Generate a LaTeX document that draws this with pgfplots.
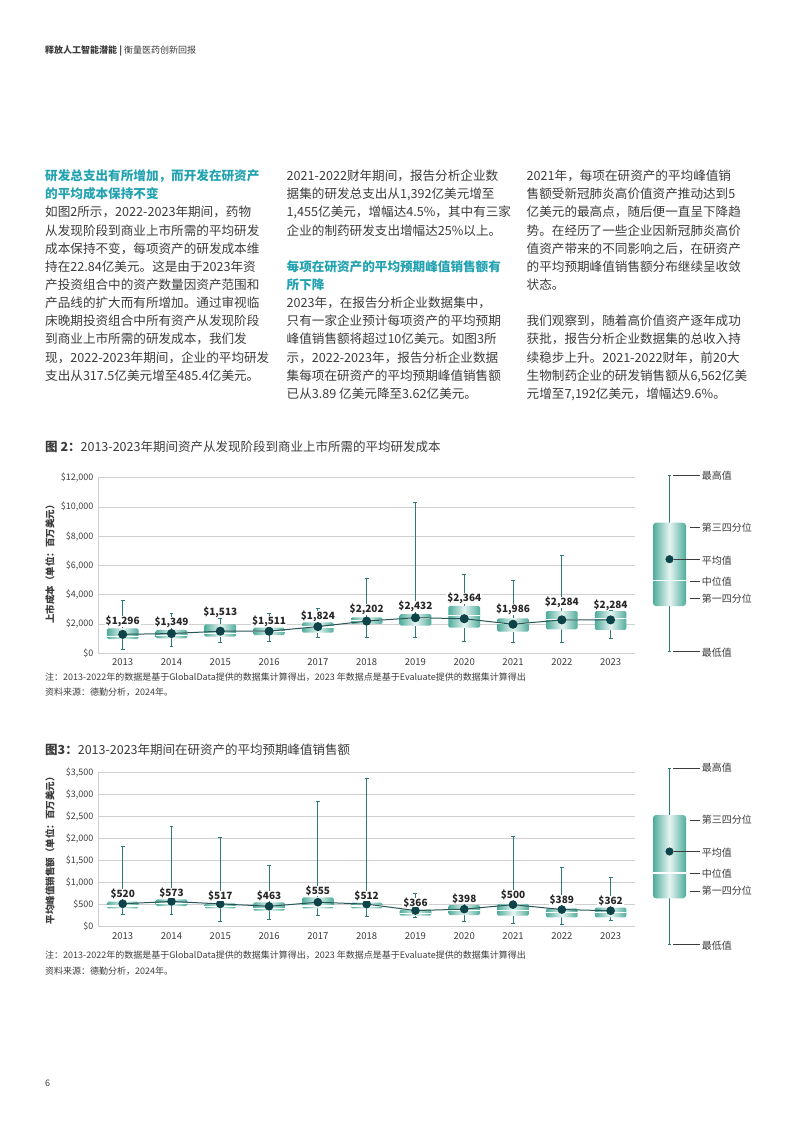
\documentclass[border=0pt]{standalone}
\usepackage{fontspec}
\setmainfont{Noto Sans CJK SC}
\usepackage{pgfplots}
\usepackage{pgfplotstable}
\pgfplotsset{compat=1.18}
\usepgfplotslibrary{statistics}

\definecolor{txt}{HTML}{3C3C3C}
\definecolor{head}{HTML}{23A3B1}
\definecolor{gridc}{HTML}{CFCFCF}
\definecolor{tealD}{HTML}{4FAC9C}
\definecolor{tealL}{HTML}{E6F4F1}
\definecolor{whisk}{HTML}{2C7B78}
\definecolor{meanC}{HTML}{0E434A}
\definecolor{lineC}{HTML}{2A5557}

% Figure 2: mean cost to launch (US$ million) and label heights
\pgfplotstableread{
pos mean ly
0   1296 1818
1   1349 1750
2   1513 2392
3   1511 1818
4   1824 2160
5   2202 2600
6   2432 2843
7   2364 3349
8   1986 2618
9   2284 3076
10  2284 2912
}\costdata

% Figure 3: mean forecast peak sales (US$ million) and label heights
\pgfplotstableread{
pos mean ly
0   520  621
1   573  644
2   517  589
3   463  589
4   555  703
5   512  589
6   366  431
7   398  508
8   500  605
9   389  492
10  362  476
}\salesdata

\pgfplotsset{
 boxchart/.style={
  anchor=south west, scale only axis, width=536.7pt,
  xmin=-0.5, xmax=10.5, ymin=0,
  axis x line*=bottom, axis y line*=left,
  axis line style={draw=gridc, line width=0.8pt, -},
  ymajorgrids, grid style={draw=gridc, line width=0.8pt},
  major tick length=0pt,
  scaled y ticks=false,
  xtick={0,...,10},
  xticklabels={2013,2014,2015,2016,2017,2018,2019,2020,2021,2022,2023},
  xticklabel style={font=\fontsize{9.5}{10}\selectfont, text=txt, yshift=-2pt},
  yticklabel style={font=\fontsize{9}{10}\selectfont, text=txt, xshift=-1.5pt},
  clip=false,
  boxplot/draw direction=y,
  boxplot/box extend=0.65,
  boxplot/whisker extend=0.08,
  boxplot/every box/.style={draw=none, left color=tealD, right color=tealD, middle color=tealL, rounded corners=1.5pt},
  boxplot/every median/.style={draw=white, line width=1.1pt},
  boxplot/every whisker/.style={draw=whisk, line width=0.9pt},
  /pgf/number format/assume math mode=true,
 },
 bx/.style={draw=whisk, line width=0.9pt},
 vlab/.style={draw=none, mark=none, point meta=\thisrow{mean},
  nodes near coords={\$\pgfmathprintnumber[fixed,precision=0,1000 sep={,}]{\pgfplotspointmeta}},
  every node near coord/.append style={font=\bfseries\fontsize{10}{10}\selectfont, text=black!85, fill=white, inner xsep=1pt, inner ysep=0pt}},
 legbox/.style={
  anchor=south west, scale only axis, width=33pt, height=176pt,
  xmin=-0.5, xmax=0.5, ymin=0, ymax=176, hide axis, clip=false,
  boxplot/draw direction=y,
  boxplot/box extend=1,
  boxplot/whisker extend=0.12,
  boxplot/every box/.style={draw=none, left color=tealD, right color=tealD, middle color=tealL, rounded corners=3pt},
  boxplot/every median/.style={draw=white, line width=1.1pt},
  boxplot/every whisker/.style={draw=whisk, line width=0.9pt},
 },
}

\tikzset{
 body/.style={font=\fontsize{12.6}{15}\selectfont, text=txt, anchor=base west, inner sep=0pt},
 headl/.style={font=\bfseries\fontsize{12.6}{15}\selectfont, text=head, anchor=base west, inner sep=0pt},
 small/.style={font=\fontsize{9}{10}\selectfont, text=txt, anchor=base west, inner sep=0pt},
 legl/.style={font=\fontsize{10}{10}\selectfont, text=txt, anchor=west, inner sep=0pt},
 leader/.style={draw=txt, line width=0.8pt},
}

\newcommand{\legendaxis}[1]{%
\begin{axis}[legbox, at={(653pt,#1)}]
\addplot[bx, boxplot prepared={draw position=0, lower whisker=0, lower quartile=45.7, median=71, upper quartile=129, upper whisker=176}] coordinates {};
\addplot[only marks, mark=*, mark size=3.8pt, mark options={draw=meanC, fill=meanC}] coordinates {(0,92.5)};
\draw[leader] (axis cs:0.106,176) -- (axis cs:0.924,176);
\draw[leader] (axis cs:0.62,124) -- (axis cs:0.924,124);
\draw[leader] (axis cs:0.15,92.5) -- (axis cs:0.924,92.5);
\draw[leader] (axis cs:0.62,70.5) -- (axis cs:0.924,70.5);
\draw[leader] (axis cs:0.62,53) -- (axis cs:0.924,53);
\draw[leader] (axis cs:0.106,0) -- (axis cs:0.924,0);
\node[legl] at (axis cs:0.976,176) {最高值};
\node[legl] at (axis cs:0.976,124) {第三四分位};
\node[legl] at (axis cs:0.976,91) {平均值};
\node[legl] at (axis cs:0.976,70.5) {中位值};
\node[legl] at (axis cs:0.976,53) {第一四分位};
\node[legl] at (axis cs:0.976,-1.5) {最低值};
\end{axis}}

\begin{document}
\begin{tikzpicture}[x=1pt,y=1pt]
\fill[white] (0,0) rectangle (793,-1122);
\path[use as bounding box] (0,0) rectangle (793,-1122);

% header
\node[small] at (45,-53.4) {\textbf{释放人工智能潜能 |} 衡量医药创新回报};

% column 1
\node[headl] at (45,-180.6) {研发总支出有所增加，而开发在研资产};
\node[headl] at (45,-198.75) {的平均成本保持不变};
\node[body] at (45,-216.9) {如图2所示，2022-2023年期间，药物};
\node[body] at (45,-235.05) {从发现阶段到商业上市所需的平均研发};
\node[body] at (45,-253.2) {成本保持不变，每项资产的研发成本维};
\node[body] at (45,-271.35) {持在22.84亿美元。这是由于2023年资};
\node[body] at (45,-289.5) {产投资组合中的资产数量因资产范围和};
\node[body] at (45,-307.65) {产品线的扩大而有所增加。通过审视临};
\node[body] at (45,-325.8) {床晚期投资组合中所有资产从发现阶段};
\node[body] at (45,-343.95) {到商业上市所需的研发成本，我们发};
\node[body] at (45,-362.1) {现，2022-2023年期间，企业的平均研发};
\node[body] at (45,-380.25) {支出从317.5亿美元增至485.4亿美元。};

% column 2
\node[body] at (286.5,-180.6) {2021-2022财年期间，报告分析企业数};
\node[body] at (286.5,-198.75) {据集的研发总支出从1,392亿美元增至};
\node[body] at (286.5,-216.9) {1,455亿美元，增幅达4.5\%，其中有三家};
\node[body] at (286.5,-235.05) {企业的制药研发支出增幅达25\%以上。};
\node[headl] at (286.5,-271.35) {每项在研资产的平均预期峰值销售额有};
\node[headl] at (286.5,-289.5) {所下降};
\node[body] at (286.5,-307.65) {2023年，在报告分析企业数据集中，};
\node[body] at (286.5,-325.8) {只有一家企业预计每项资产的平均预期};
\node[body] at (286.5,-343.95) {峰值销售额将超过10亿美元。如图3所};
\node[body] at (286.5,-362.1) {示，2022-2023年，报告分析企业数据};
\node[body] at (286.5,-380.25) {集每项在研资产的平均预期峰值销售额};
\node[body] at (286.5,-398.4) {已从3.89 亿美元降至3.62亿美元。};

% column 3
\node[body] at (526.5,-180.6) {2021年，每项在研资产的平均峰值销};
\node[body] at (526.5,-198.75) {售额受新冠肺炎高价值资产推动达到5};
\node[body] at (526.5,-216.9) {亿美元的最高点，随后便一直呈下降趋};
\node[body] at (526.5,-235.05) {势。在经历了一些企业因新冠肺炎高价};
\node[body] at (526.5,-253.2) {值资产带来的不同影响之后，在研资产};
\node[body] at (526.5,-271.35) {的平均预期峰值销售额分布继续呈收敛};
\node[body] at (526.5,-289.5) {状态。};
\node[body] at (526.5,-325.8) {我们观察到，随着高价值资产逐年成功};
\node[body] at (526.5,-343.95) {获批，报告分析企业数据集的总收入持};
\node[body] at (526.5,-362.1) {续稳步上升。2021-2022财年，前20大};
\node[body] at (526.5,-380.25) {生物制药企业的研发销售额从6,562亿美};
\node[body] at (526.5,-398.4) {元增至7,192亿美元，增幅达9.6\%。};

% ---------- Figure 2 ----------
\node[font=\fontsize{12.5}{14}\selectfont, text=txt, anchor=base west, inner sep=0pt] at (45,-451.3) {\textbf{图 2：}2013-2023年期间资产从发现阶段到商业上市所需的平均研发成本};
\node[rotate=90, font=\bfseries\fontsize{9.5}{10}\selectfont, text=txt, inner sep=0pt] at (50,-562) {上市成本（单位：百万美元）};

\begin{axis}[boxchart, at={(98.3pt,-653.3pt)}, height=175.6pt, ymax=12000,
  ytick={0,2000,4000,6000,8000,10000,12000},
  yticklabels={{\$0},{\$2,000},{\$4,000},{\$6,000},{\$8,000},{\$10,000},{\$12,000}}]
\addplot[bx, boxplot prepared={draw position=0,  lower whisker=294,  lower quartile=977,  median=1130, upper quartile=1708, upper whisker=3600}] coordinates {};
\addplot[bx, boxplot prepared={draw position=1,  lower whisker=499,  lower quartile=1025, median=1200, upper quartile=1593, upper whisker=2734}] coordinates {};
\addplot[bx, boxplot prepared={draw position=2,  lower whisker=725,  lower quartile=1135, median=1370, upper quartile=1982, upper whisker=2392}] coordinates {};
\addplot[bx, boxplot prepared={draw position=3,  lower whisker=793,  lower quartile=1251, median=1480, upper quartile=1750, upper whisker=2734}] coordinates {};
\addplot[bx, boxplot prepared={draw position=4,  lower whisker=1094, lower quartile=1408, median=1800, upper quartile=2119, upper whisker=3076}] coordinates {};
\addplot[bx, boxplot prepared={draw position=5,  lower whisker=1094, lower quartile=2003, median=2230, upper quartile=2461, upper whisker=5126}] coordinates {};
\addplot[bx, boxplot prepared={draw position=6,  lower whisker=1094, lower quartile=1887, median=2350, upper quartile=2686, upper whisker=10320}] coordinates {};
\addplot[bx, boxplot prepared={draw position=7,  lower whisker=820,  lower quartile=1750, median=2570, upper quartile=3233, upper whisker=5400}] coordinates {};
\addplot[bx, boxplot prepared={draw position=8,  lower whisker=752,  lower quartile=1477, median=2050, upper quartile=2392, upper whisker=4962}] coordinates {};
\addplot[bx, boxplot prepared={draw position=9,  lower whisker=725,  lower quartile=1640, median=2324, upper quartile=2891, upper whisker=6699}] coordinates {};
\addplot[bx, boxplot prepared={draw position=10, lower whisker=1025, lower quartile=1593, median=2392, upper quartile=2891, upper whisker=2950}] coordinates {};
\addplot[draw=lineC, line width=1pt, mark=*, mark size=4pt, mark options={draw=meanC, fill=meanC}] table[x=pos, y=mean]{\costdata};
\addplot[vlab] table[x=pos, y=ly]{\costdata};
\end{axis}

\legendaxis{-651.7pt}

\node[small] at (45,-680.4) {注：2013-2022年的数据是基于GlobalData提供的数据集计算得出，2023 年数据点是基于Evaluate提供的数据集计算得出};
\node[small] at (45,-695.4) {资料来源：德勤分析，2024年。};

% ---------- Figure 3 ----------
\node[font=\fontsize{12.5}{14}\selectfont, text=txt, anchor=base west, inner sep=0pt] at (45,-754.6) {\textbf{图3：}2013-2023年期间在研资产的平均预期峰值销售额};
\node[rotate=90, font=\bfseries\fontsize{9.5}{10}\selectfont, text=txt, inner sep=0pt] at (50,-848) {平均峰值销售额（单位：百万美元）};

\begin{axis}[boxchart, at={(98.3pt,-926.7pt)}, height=154.4pt, ymax=3500,
  ytick={0,500,1000,1500,2000,2500,3000,3500},
  yticklabels={{\$0},{\$500},{\$1,000},{\$1,500},{\$2,000},{\$2,500},{\$3,000},{\$3,500}}]
\addplot[bx, boxplot prepared={draw position=0,  lower whisker=281, lower quartile=416, median=470, upper quartile=567, upper whisker=1814}] coordinates {};
\addplot[bx, boxplot prepared={draw position=1,  lower whisker=288, lower quartile=469, median=530, upper quartile=621, upper whisker=2267}] coordinates {};
\addplot[bx, boxplot prepared={draw position=2,  lower whisker=113, lower quartile=416, median=450, upper quartile=530, upper whisker=2027}] coordinates {};
\addplot[bx, boxplot prepared={draw position=3,  lower whisker=167, lower quartile=363, median=420, upper quartile=552, upper whisker=1399}] coordinates {};
\addplot[bx, boxplot prepared={draw position=4,  lower whisker=250, lower quartile=416, median=470, upper quartile=666, upper whisker=2850}] coordinates {};
\addplot[bx, boxplot prepared={draw position=5,  lower whisker=235, lower quartile=416, median=470, upper quartile=544, upper whisker=3364}] coordinates {};
\addplot[bx, boxplot prepared={draw position=6,  lower whisker=220, lower quartile=250, median=300, upper quartile=390, upper whisker=757}] coordinates {};
\addplot[bx, boxplot prepared={draw position=7,  lower whisker=129, lower quartile=265, median=375, upper quartile=492, upper whisker=658}] coordinates {};
\addplot[bx, boxplot prepared={draw position=8,  lower whisker=76,  lower quartile=250, median=360, upper quartile=520, upper whisker=2040}] coordinates {};
\addplot[bx, boxplot prepared={draw position=9,  lower whisker=54,  lower quartile=212, median=320, upper quartile=416, upper whisker=1347}] coordinates {};
\addplot[bx, boxplot prepared={draw position=10, lower whisker=151, lower quartile=212, median=317, upper quartile=431, upper whisker=1120}] coordinates {};
\addplot[draw=lineC, line width=1pt, mark=*, mark size=3.8pt, mark options={draw=meanC, fill=meanC}] table[x=pos, y=mean]{\salesdata};
\addplot[vlab] table[x=pos, y=ly]{\salesdata};
\end{axis}

\legendaxis{-944pt}

\node[small] at (45,-958.4) {注：2013-2022年的数据是基于GlobalData提供的数据集计算得出，2023 年数据点是基于Evaluate提供的数据集计算得出};
\node[small] at (45,-974.4) {资料来源：德勤分析，2024年。};

% page number
\node[small] at (45,-1086.4) {6};
\end{tikzpicture}
\end{document}
